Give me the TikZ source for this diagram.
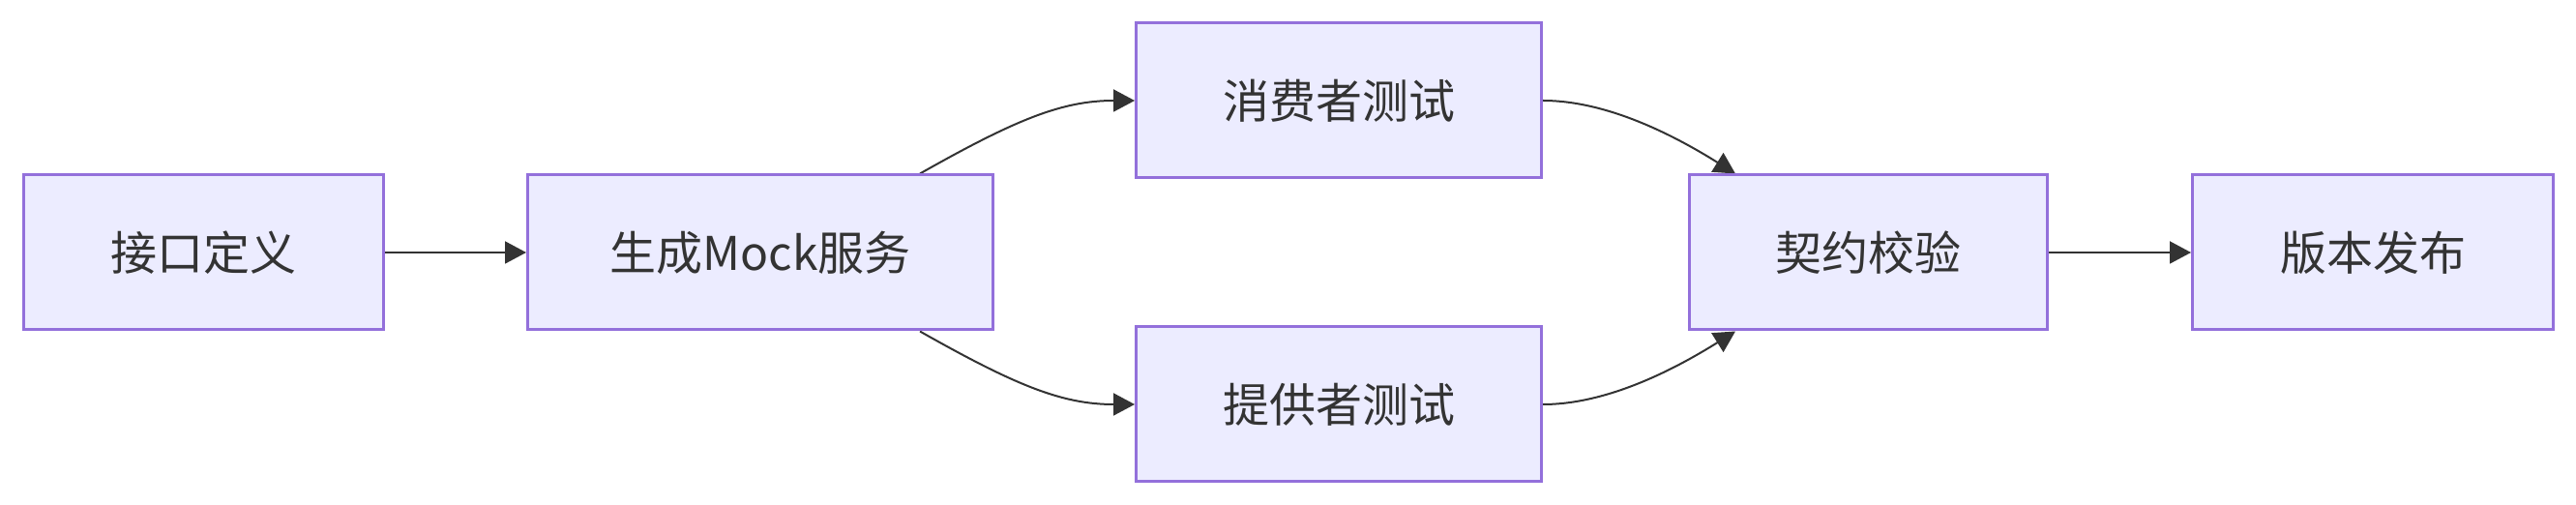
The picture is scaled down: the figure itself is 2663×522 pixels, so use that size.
\documentclass[tikz,border=0pt]{standalone}
\usepackage{fontspec}
\setmainfont{Noto Sans CJK SC}
\usepackage{xcolor}
\usetikzlibrary{arrows.meta, backgrounds}

\definecolor{boxfill}{HTML}{ECECFF}
\definecolor{boxline}{HTML}{9370DB}
\definecolor{ink}{HTML}{333333}

\begin{document}
\begin{tikzpicture}[x=0.5pt, y=-0.5pt,
    stage/.style={draw=boxline, fill=boxfill, line width=1.5pt, inner sep=0pt,
      minimum height=80pt, text=ink, font=\fontsize{24}{29}\selectfont},
    flow/.style={draw=ink, line width=1pt, -{Triangle[length=11pt, width=11.5pt]}}]
    \useasboundingbox (0, 0) rectangle (2663, 522);

    % draw stages
    \node[stage, minimum width=186pt]   (spec)    at (210, 261)  {接口定义};
    \node[stage, minimum width=240.5pt] (mock)    at (786, 261)  {生成Mock服务};
    \node[stage, minimum width=209.5pt] (consume) at (1384, 104) {消费者测试};
    \node[stage, minimum width=209.5pt] (provide) at (1384, 418) {提供者测试};
    \node[stage, minimum width=185pt]   (verify)  at (1931, 261) {契约校验};
    \node[stage, minimum width=186.5pt] (release) at (2453, 261) {版本发布};

    % draw flows behind the stages
    \begin{pgfonlayer}{background}
      \draw[flow] (spec.east) -- (mock.west);
      \draw[flow] ([xshift=82.5pt]mock.north) .. controls +(99, -56) and +(-75, 0) .. (consume.west);
      \draw[flow] ([xshift=82.5pt]mock.south) .. controls +(99, 56) and +(-75, 0) .. (provide.west);
      \draw[flow] (consume.east) .. controls +(66, 0) and +(-64, -40) .. ([xshift=-68.5pt]verify.north);
      \draw[flow] (provide.east) .. controls +(66, 0) and +(-64, 40) .. ([xshift=-68.5pt]verify.south);
      \draw[flow] (verify.east) -- (release.west);
    \end{pgfonlayer}
\end{tikzpicture}
\end{document}
